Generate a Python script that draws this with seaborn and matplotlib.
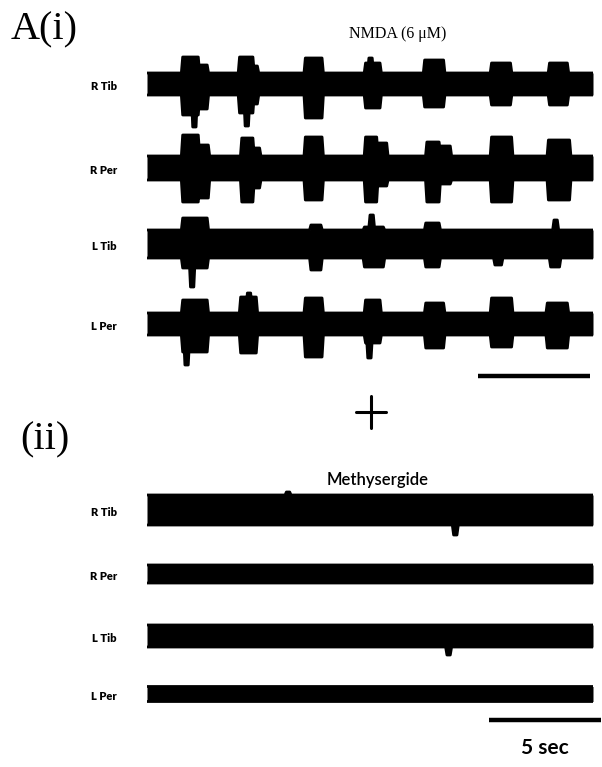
import numpy as np
import pandas as pd
import matplotlib
matplotlib.use("Agg")
import matplotlib.pyplot as plt
import seaborn as sns

# ---------------- data ----------------
channels = ["R Tib", "R Per", "L Tib", "L Per"]
duration_s = 20.0
scale_bar_s = 5.0
title_i = "NMDA (6 \u03bcM)"
title_ii = "Methysergide"

# baseline half-amplitude of each EMG trace (arbitrary units)
nmda_baseline = [11, 12, 14, 11]
# bursts: (start s, end s, upward extent, downward extent); 0 = baseline
nmda_r_tib = [(1.6, 2.3, 27, 31), (2.3, 2.7, 19, 25), (2.05, 2.2, 0, 43),
              (4.15, 4.75, 27, 29), (4.75, 4.95, 18, 20), (4.4, 4.55, 0, 42),
              (7.1, 7.85, 26, 34),
              (9.8, 10.45, 21, 24), (9.95, 10.1, 26, 0),
              (12.45, 13.3, 24, 23),
              (15.45, 16.3, 21, 21),
              (18.05, 18.85, 21, 21)]
nmda_r_per = [(1.6, 2.3, 33, 34), (2.3, 2.75, 23, 30),
              (4.25, 4.75, 30, 34), (4.75, 5.05, 20, 20),
              (7.1, 7.85, 31, 32),
              (9.8, 10.3, 31, 34), (10.3, 10.75, 25, 18),
              (12.55, 13.1, 26, 34), (13.1, 13.6, 22, 16),
              (15.45, 16.35, 31, 34),
              (18.0, 18.95, 28, 32)]
nmda_l_tib = [(1.6, 2.7, 26, 24), (1.95, 2.1, 0, 43),
              (7.35, 7.8, 19, 26),
              (9.75, 10.6, 17, 23), (10.0, 10.15, 29, 0),
              (12.5, 13.1, 21, 23),
              (15.6, 15.9, 0, 21),
              (18.25, 18.4, 24, 0), (18.1, 18.5, 0, 23)]
nmda_l_per = [(1.6, 2.7, 24, 28), (1.7, 1.85, 0, 41),
              (4.2, 4.9, 27, 29), (4.5, 4.65, 31, 0),
              (7.1, 7.85, 26, 33),
              (9.8, 10.45, 24, 19), (9.9, 10.05, 0, 34),
              (12.5, 13.3, 21, 24),
              (15.45, 16.35, 26, 23),
              (17.95, 18.85, 21, 24)]

methy_baseline = [15, 9, 11, 7.5]
methy_r_tib = [(6.25, 6.4, 18, 0), (13.75, 13.9, 0, 25)]
methy_r_per = []
methy_l_tib = [(13.45, 13.6, 0, 19)]
methy_l_per = []

nmda_bursts = [nmda_r_tib, nmda_r_per, nmda_l_tib, nmda_l_per]
methy_bursts = [methy_r_tib, methy_r_per, methy_l_tib, methy_l_per]

# ---------------- layout (pixel space of the 602x767 figure) ----------------
W, H = 602, 767
X0, PX_PER_S = 147.0, 22.3
centers_i = [84, 168, 244, 324]
centers_ii = [510, 574, 636, 694]
RAMP = 0.06  # seconds, softens burst edges


def tx(px):
    return (px - X0) / PX_PER_S


def envelope(base, bursts, t):
    up = np.full_like(t, float(base))
    dn = np.full_like(t, float(base))
    for t0, t1, u, d in bursts:
        w = np.clip(np.minimum(t - (t0 - RAMP), (t1 + RAMP) - t) / RAMP, 0, 1)
        up = np.maximum(up, base + (max(u, base) - base) * w)
        dn = np.maximum(dn, base + (max(d, base) - base) * w)
    return up, dn


sns.set_theme(style="white")
plt.rcParams["font.family"] = ["Liberation Serif", "DejaVu Sans"]

fig = plt.figure(figsize=(W / 100, H / 100), dpi=100)
ax = fig.add_axes([0, 0, 1, 1])
ax.set_xlim(tx(0), tx(W))
ax.set_ylim(H, 0)
ax.axis("off")

t = np.linspace(0, duration_s, 2001)
rows = []
traces = []
for panel, bases, bursts_list, centers in (("i", nmda_baseline, nmda_bursts, centers_i),
                                           ("ii", methy_baseline, methy_bursts, centers_ii)):
    for ch, base, bursts, c in zip(channels, bases, bursts_list, centers):
        up, dn = envelope(base, bursts, t)
        key = f"{panel}-{ch}"
        traces.append((c - up, c + dn))
        rows.append(pd.DataFrame({"t": t, "y": c - up, "trace": key + "-u"}))
        rows.append(pd.DataFrame({"t": t, "y": c + dn, "trace": key + "-d"}))
df = pd.concat(rows, ignore_index=True)

for lo, hi in traces:
    ax.fill_between(t, lo, hi, color="black", linewidth=0)
sns.lineplot(data=df, x="t", y="y", units="trace", estimator=None, sort=False,
             color="black", linewidth=2.0, ax=ax, legend=False)
for line in ax.lines:
    line.set_solid_joinstyle("round")
    line.set_solid_capstyle("butt")
ax.set_xlabel("")
ax.set_ylabel("")

# channel labels
label_font = dict(family=["Lato", "DejaVu Sans"], fontweight="heavy", fontsize=8,
                  ha="center", va="center", color="black")
for ch, c in zip(channels, centers_i):
    ax.text(tx(104), c + 3, ch, **label_font)
for ch, c in zip(channels, centers_ii):
    ax.text(tx(104), c + 3, ch, **label_font)

# panel letters and titles
ax.text(tx(11), 30, "A(i)", fontsize=29, ha="left", va="center", color="black")
ax.text(tx(20), 440, "(ii)", fontsize=29, ha="left", va="center", color="black")
ax.text(tx(398), 34, title_i, fontsize=11.5, ha="center", va="center", color="black")
ax.text(tx(378), 480, title_ii, fontsize=12, ha="center", va="center", color="black",
        family=["Lato", "DejaVu Sans"], fontweight="semibold")

# plus sign
ax.plot([tx(356), tx(386)], [412, 412], color="black", lw=2.2, solid_capstyle="round")
ax.plot([tx(371), tx(371)], [396, 428], color="black", lw=2.2, solid_capstyle="round")

# scale bars (5 s)
bar_i0 = tx(478)
ax.plot([bar_i0, bar_i0 + scale_bar_s], [376, 376], color="black", lw=3.2, solid_capstyle="butt")
bar_ii0 = tx(489)
ax.plot([bar_ii0, bar_ii0 + scale_bar_s], [720, 720], color="black", lw=3.2, solid_capstyle="butt")
ax.text(tx(545), 748, f"{scale_bar_s:g} sec", fontsize=15, ha="center", va="center",
        color="black", family=["Lato", "DejaVu Sans"], fontweight="bold")

fig.savefig("out.png", dpi=100, facecolor="white")
